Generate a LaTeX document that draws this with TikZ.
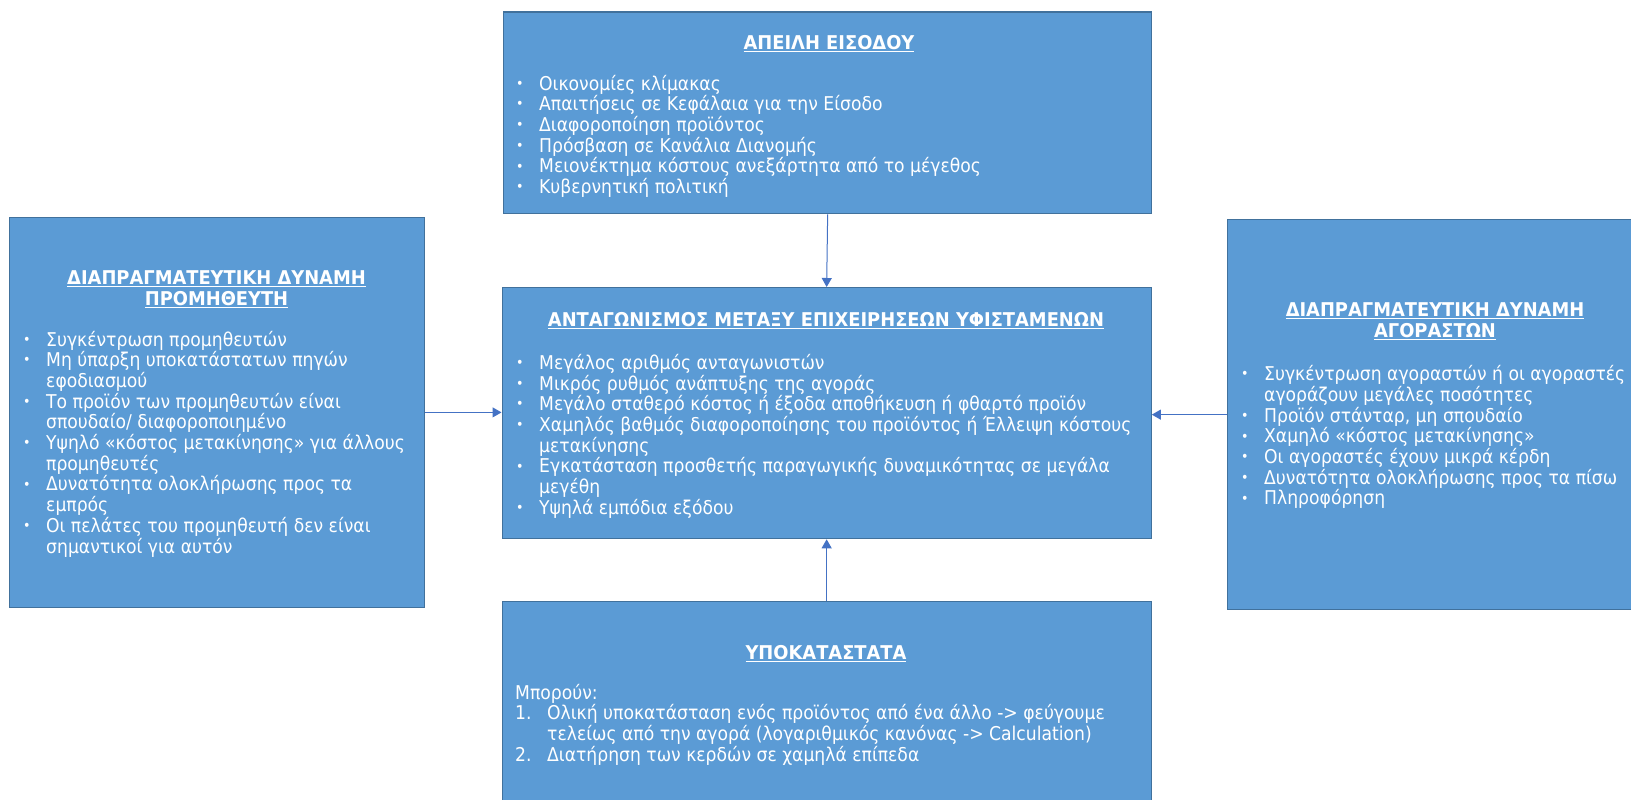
\documentclass[tikz,border=0pt]{standalone}
\usepackage{fontspec}
\setmainfont{DejaVu Sans}[FakeStretch=0.905]
\newfontfamily\ttlfont{DejaVu Sans}[FakeStretch=0.94]
\usetikzlibrary{arrows.meta}

\definecolor{boxfill}{HTML}{5B9BD5}
\definecolor{boxline}{HTML}{41719C}
\definecolor{arrowblue}{HTML}{4472C4}

% list helpers: bullet lines, continuation lines and a block of lines
\newlength{\bulw}
\setlength{\bulw}{24pt}
\newcommand{\dotmark}{\raisebox{1.8pt}{\fontsize{14}{14}\selectfont •}}
\newcommand{\itm}[1]{\hbox{\makebox[\bulw][l]{\hspace*{1pt}\dotmark}#1}}
\newcommand{\num}[2]{\hbox{\makebox[\bulw][l]{#1}#2}}
\newcommand{\cnt}[1]{\hbox{\hspace*{\bulw}#1}}
\newcommand{\pln}[1]{\hbox{#1}}
\newcommand{\blk}[1]{\vtop{\baselineskip=20.7pt\lineskiplimit=-50pt #1}}
% underlined bold heading
\newsavebox{\ttlbox}
\newcommand{\ttl}[1]{\sbox{\ttlbox}{\ttlfont\bfseries #1}\rlap{\rule[-2.6pt]{\wd\ttlbox}{1.2pt}}\usebox{\ttlbox}}

\tikzset{
  force/.style={draw=boxline, line width=1.3pt, fill=boxfill, inner sep=0pt,
    anchor=north west},
  txt/.style={text=white, inner sep=0pt, font=\fontsize{19}{20.7}\selectfont},
  arr/.style={draw=arrowblue, line width=1pt,
    -{Triangle[length=9pt,width=10pt]}},
}

\begin{document}
\begin{tikzpicture}[x=1pt,y=-1pt]
\useasboundingbox (0,0) rectangle (1631,800);
\clip (0,0) rectangle (1631,800);

% the five boxes
\node[force, minimum width=648pt, minimum height=201.5pt] (entry) at (503,11.5) {};
\node[force, minimum width=649pt, minimum height=251pt] (rivalry) at (501.5,287) {};
\node[force, minimum width=649pt, minimum height=215pt] (subst) at (501.5,601) {};
\node[force, minimum width=415pt, minimum height=390.5pt] (supp) at (9,216.5) {};
\node[force, minimum width=420pt, minimum height=390pt] (buy) at (1227,219) {};

% connectors into the central box
\draw[arr] (entry.south) -- (rivalry.north);
\draw[arr] (subst.north) -- (rivalry.south);
\draw[arr] (supp.east) -- (supp.east -| rivalry.west);
\draw[arr] (buy.west) -- (buy.west -| rivalry.east);

% threat of entry
\node[txt, anchor=base] (entryT) at (829,49.5) {\ttl{ΑΠΕΙΛΗ ΕΙΣΟΔΟΥ}};
\node[txt, anchor=base west] (entryL) at (515,90) {\blk{%
\itm{Οικονομίες κλίμακας}
\itm{Απαιτήσεις σε Κεφάλαια για την Είσοδο}
\itm{Διαφοροποίηση προϊόντος}
\itm{Πρόσβαση σε Κανάλια Διανομής}
\itm{Μειονέκτημα κόστους ανεξάρτητα από το μέγεθος}
\itm{Κυβερνητική πολιτική}}};

% rivalry among existing firms
\node[txt, anchor=base] (rivT) at (826,326.7) {\ttl{ΑΝΤΑΓΩΝΙΣΜΟΣ ΜΕΤΑΞΥ ΕΠΙΧΕΙΡΗΣΕΩΝ ΥΦΙΣΤΑΜΕΝΩΝ}};
\node[txt, anchor=base west] (rivL) at (515,369.3) {\blk{%
\itm{Μεγάλος αριθμός ανταγωνιστών}
\itm{Μικρός ρυθμός ανάπτυξης της αγοράς}
\itm{Μεγάλο σταθερό κόστος ή έξοδα αποθήκευση ή φθαρτό προϊόν}
\itm{Χαμηλός βαθμός διαφοροποίησης του προϊόντος ή Έλλειψη κόστους}
\cnt{μετακίνησης}
\itm{Εγκατάσταση προσθετής παραγωγικής δυναμικότητας σε μεγάλα}
\cnt{μεγέθη}
\itm{Υψηλά εμπόδια εξόδου}}};

% substitutes
\node[txt, anchor=base] (subT) at (826,659.5) {\ttl{ΥΠΟΚΑΤΑΣΤΑΤΑ}};
\node[txt, anchor=base west] (subL) at (515,699) {\setlength{\bulw}{32pt}\blk{%
\pln{Μπορούν:}
\num{1.}{Ολική υποκατάσταση ενός προϊόντος από ένα άλλο -> φεύγουμε}
\cnt{τελείως από την αγορά (λογαριθμικός κανόνας -> Calculation)}
\num{2.}{Διατήρηση των κερδών σε χαμηλά επίπεδα}}};

% bargaining power of suppliers
\node[txt, anchor=base] (supT) at (216.5,284.5) {\blk{%
\hbox to 0pt{\hss\ttl{ΔΙΑΠΡΑΓΜΑΤΕΥΤΙΚΗ ΔΥΝΑΜΗ}\hss}
\hbox to 0pt{\hss\ttl{ΠΡΟΜΗΘΕΥΤΗ}\hss}}};
\node[txt, anchor=base west] (supL) at (22,346) {\setlength{\bulw}{24pt}\blk{%
\itm{Συγκέντρωση προμηθευτών}
\itm{Μη ύπαρξη υποκατάστατων πηγών}
\cnt{εφοδιασμού}
\itm{Το προϊόν των προμηθευτών είναι}
\cnt{σπουδαίο/ διαφοροποιημένο}
\itm{Υψηλό «κόστος μετακίνησης» για άλλους}
\cnt{προμηθευτές}
\itm{Δυνατότητα ολοκλήρωσης προς τα}
\cnt{εμπρός}
\itm{Οι πελάτες του προμηθευτή δεν είναι}
\cnt{σημαντικοί για αυτόν}}};

% bargaining power of buyers
\node[txt, anchor=base] (buyT) at (1435,316.5) {\blk{%
\hbox to 0pt{\hss\ttl{ΔΙΑΠΡΑΓΜΑΤΕΥΤΙΚΗ ΔΥΝΑΜΗ}\hss}
\hbox to 0pt{\hss\ttl{ΑΓΟΡΑΣΤΩΝ}\hss}}};
\node[txt, anchor=base west] (buyL) at (1240,380.7) {\blk{%
\itm{Συγκέντρωση αγοραστών ή οι αγοραστές}
\cnt{αγοράζουν μεγάλες ποσότητες}
\itm{Προϊόν στάνταρ, μη σπουδαίο}
\itm{Χαμηλό «κόστος μετακίνησης»}
\itm{Οι αγοραστές έχουν μικρά κέρδη}
\itm{Δυνατότητα ολοκλήρωσης προς τα πίσω}
\itm{Πληροφόρηση}}};
\end{tikzpicture}
\end{document}
